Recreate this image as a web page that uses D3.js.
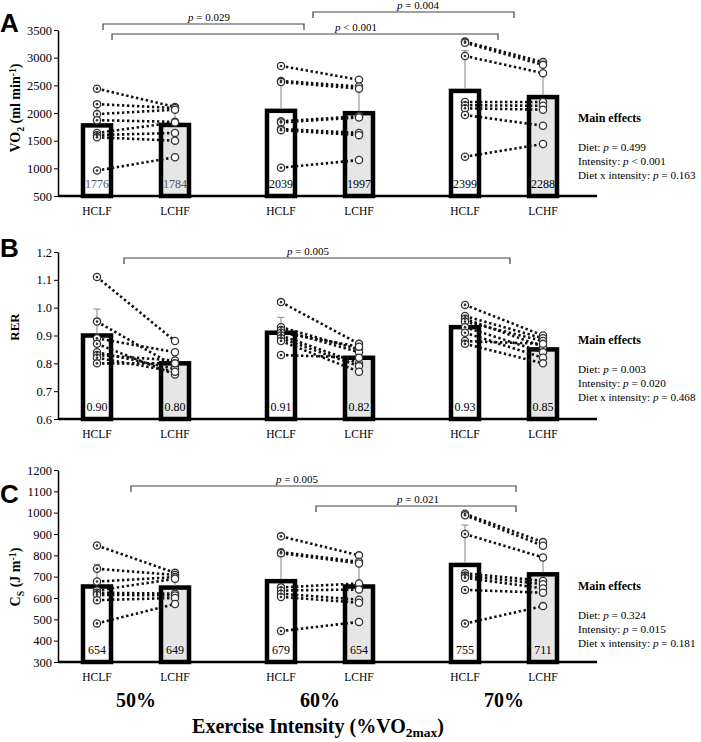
<!DOCTYPE html>
<html lang="en">
<head>
<meta charset="UTF-8" />
<title>VO2, RER and Cs by diet and exercise intensity</title>
<style>
  body { margin: 0; background: #fff; }
  svg text { font-family: "Liberation Serif", "Times New Roman", serif; }
  svg text.letter { font-family: "Liberation Sans", Arial, sans-serif; }
</style>
</head>
<body>
<script src="https://cdn.jsdelivr.net/npm/d3@7"></script>
<div id="app"></div>
<script>
// categories
const intensities = ["50%", "60%", "70%"];
const diets = ["HCLF", "LCHF"];

// VO2 (ml min-1): means, SD, subjects as [HCLF, LCHF]
const vo2Ticks = [500, 1000, 1500, 2000, 2500, 3000, 3500];
const vo2Means = [[1776, 1784], [2039, 1997], [2399, 2288]];
const vo2Sd = [[430, 320], [520, 440], [727, 400]];
const vo2At50 = [[2440, 2110], [2160, 2090], [1980, 2060], [1870, 1840], [1640, 1830], [1600, 1640], [1560, 1500], [960, 1200]];
const vo2At60 = [[2850, 2600], [2580, 2480], [2560, 2440], [1850, 1940], [1830, 1920], [1710, 1640], [1690, 1600], [1010, 1150]];
const vo2At70 = [[3290, 2920], [3270, 2870], [3030, 2720], [2200, 2200], [2140, 2130], [2085, 2060], [1964, 1770], [1210, 1440]];
const vo2Effects = [["Diet", "= 0.499"], ["Intensity", "< 0.001"], ["Diet x intensity", "= 0.163"]];
const vo2Brackets = [["50%", "60%", "= 0.029"], ["50%", "70%", "< 0.001"], ["60%", "70%", "= 0.004"]];

// RER
const rerTicks = [0.6, 0.7, 0.8, 0.9, 1.0, 1.1, 1.2];
const rerMeans = [[0.90, 0.80], [0.91, 0.82], [0.93, 0.85]];
const rerSd = [[0.095, 0.04], [0.055, 0.035], [0.045, 0.03]];
const rerAt50 = [[1.11, 0.88], [0.95, 0.79], [0.89, 0.84], [0.87, 0.76], [0.84, 0.78], [0.83, 0.81], [0.82, 0.77], [0.80, 0.80]];
const rerAt60 = [[1.02, 0.87], [0.93, 0.85], [0.92, 0.84], [0.91, 0.86], [0.90, 0.80], [0.89, 0.79], [0.88, 0.77], [0.83, 0.82]];
const rerAt70 = [[1.01, 0.90], [0.97, 0.89], [0.96, 0.86], [0.95, 0.88], [0.93, 0.84], [0.91, 0.82], [0.88, 0.87], [0.87, 0.80]];
const rerEffects = [["Diet", "= 0.003"], ["Intensity", "= 0.020"], ["Diet x intensity", "= 0.468"]];
const rerBrackets = [["50%", "70%", "= 0.005"]];

// Cs (J m-1)
const csTicks = [300, 400, 500, 600, 700, 800, 900, 1000, 1100, 1200];
const csMeans = [[654, 649], [679, 654], [755, 711]];
const csSd = [[104, 55], [116, 105], [187, 80]];
const csAt50 = [[846, 718], [737, 708], [677, 698], [635, 690], [625, 620], [615, 612], [590, 600], [481, 572]];
const csAt60 = [[889, 800], [815, 770], [810, 762], [650, 668], [635, 640], [620, 592], [605, 578], [445, 488]];
const csAt70 = [[995, 862], [988, 845], [900, 790], [716, 680], [705, 665], [695, 645], [638, 625], [480, 562]];
const csEffects = [["Diet", "= 0.324"], ["Intensity", "= 0.015"], ["Diet x intensity", "= 0.181"]];
const csBrackets = [["50%", "70%", "= 0.005"], ["60%", "70%", "= 0.021"]];

const W = 701, H = 742;
const axisX = 58, axisEnd = 597;

const svg = d3.select("#app").append("svg")
  .attr("width", W)
  .attr("height", H);

const x0 = d3.scaleBand().domain(intensities).range([44, 596]);
const x1 = d3.scalePoint().domain(diets).range([53, 131]);
const xPos = (g, d) => x0(g) + x1(d);
const xMid = g => x0(g) + x0.bandwidth() / 2;

// layout for each panel (pixels)
const panels = [
  { letter: "A", letterY: 32, top: 30, bottom: 196, domain: [500, 3500], ticks: vo2Ticks,
    tickFmt: d3.format("d"), labelFmt: d3.format("d"), means: vo2Means, sd: vo2Sd,
    subjects: [vo2At50, vo2At60, vo2At70], effects: vo2Effects, effectsY: 122,
    brackets: vo2Brackets,
    bracketLayout: [{ dx1: -33, dx2: -16, y: 24, tx: 209 }, { dx1: -24, dx2: -6, y: 34, tx: 356 }, { dx1: -7, dx2: 10, y: 12, tx: 418 }],
    ylabel: [["VO", 0], ["2", 1], [" (ml min", 0], ["-1", -1], [")", 0]], ylabelPos: [20, 108], ylabelSize: 14,
    labelColors: [["#555", "#555"], ["#000", "#000"], ["#000", "#000"]] },
  { letter: "B", letterY: 257, top: 252, bottom: 419, domain: [0.6, 1.2], ticks: rerTicks,
    tickFmt: d3.format(".1f"), labelFmt: d3.format(".2f"), means: rerMeans, sd: rerSd,
    subjects: [rerAt50, rerAt60, rerAt70], effects: rerEffects, effectsY: 344,
    brackets: rerBrackets,
    bracketLayout: [{ dx1: -12, dx2: 6, y: 258, tx: 308 }],
    ylabel: [["RER", 0]], ylabelPos: [19, 327], ylabelSize: 13,
    labelColors: [["#000", "#000"], ["#000", "#000"], ["#000", "#000"]] },
  { letter: "C", letterY: 503, top: 470, bottom: 662, domain: [300, 1200], ticks: csTicks,
    tickFmt: d3.format("d"), labelFmt: d3.format("d"), means: csMeans, sd: csSd,
    subjects: [csAt50, csAt60, csAt70], effects: csEffects, effectsY: 590,
    brackets: csBrackets,
    bracketLayout: [{ dx1: -5, dx2: 12, y: 486, tx: 297 }, { dx1: -4, dx2: 12, y: 506, tx: 418 }],
    ylabel: [["C", 0], ["S", 1], [" (J m", 0], ["-1", -1], [")", 0]], ylabelPos: [20, 577], ylabelSize: 14,
    labelColors: [["#000", "#000"], ["#000", "#000"], ["#000", "#000"]] }
];

function drawPanel(p) {
  const y = d3.scaleLinear().domain(p.domain).range([p.bottom, p.top]);
  const g = svg.append("g");

  // y axis
  const ax = g.append("g")
    .attr("transform", "translate(" + axisX + ",0)")
    .call(d3.axisLeft(y).tickValues(p.ticks).tickFormat(p.tickFmt).tickSize(4).tickSizeOuter(0).tickPadding(2));
  ax.select(".domain").attr("stroke", "#000").attr("stroke-width", 1.5);
  ax.selectAll(".tick line").attr("stroke", "#000");
  ax.selectAll("text")
    .attr("font-size", 12.5)
    .attr("fill", "#000");

  // bars
  const cells = intensities.flatMap((gName, i) => diets.map((d, j) => ({
    g: gName, d: d, i: i, j: j, mean: p.means[i][j], sd: p.sd[i][j]
  })));

  g.selectAll("rect.bar")
    .data(cells)
    .enter()
    .append("rect")
    .attr("class", "bar")
    .attr("x", c => xPos(c.g, c.d) - 14)
    .attr("width", 28)
    .attr("y", c => y(c.mean))
    .attr("height", c => p.bottom - y(c.mean))
    .attr("fill", c => c.d === "HCLF" ? "#fff" : "#e6e6e6")
    .attr("stroke", "#000")
    .attr("stroke-width", 4.5);

  // baseline
  g.append("line")
    .attr("x1", axisX).attr("x2", axisEnd)
    .attr("y1", p.bottom).attr("y2", p.bottom)
    .attr("stroke", "#000")
    .attr("stroke-width", 2.5);

  // error bars (+SD)
  const err = g.selectAll("g.err")
    .data(cells)
    .enter()
    .append("g")
    .attr("stroke", "#999")
    .attr("stroke-width", 1.2);
  err.append("line")
    .attr("x1", c => xPos(c.g, c.d)).attr("x2", c => xPos(c.g, c.d))
    .attr("y1", c => y(c.mean) - 2).attr("y2", c => y(c.mean + c.sd));
  err.append("line")
    .attr("x1", c => xPos(c.g, c.d) - 3.5).attr("x2", c => xPos(c.g, c.d) + 3.5)
    .attr("y1", c => y(c.mean + c.sd)).attr("y2", c => y(c.mean + c.sd));

  // mean labels
  g.selectAll("text.mean")
    .data(cells)
    .enter()
    .append("text")
    .attr("x", c => xPos(c.g, c.d))
    .attr("y", p.bottom - 8)
    .attr("text-anchor", "middle")
    .attr("font-size", 12)
    .attr("fill", c => p.labelColors[c.i][c.j])
    .text(c => p.labelFmt(c.mean));

  // individual subjects
  const subj = intensities.flatMap((gName, i) => p.subjects[i].map(pair => ({ g: gName, h: pair[0], l: pair[1] })));

  g.selectAll("line.subj")
    .data(subj)
    .enter()
    .append("line")
    .attr("x1", s => xPos(s.g, "HCLF"))
    .attr("x2", s => xPos(s.g, "LCHF"))
    .attr("y1", s => y(s.h))
    .attr("y2", s => y(s.l))
    .attr("stroke", "#111")
    .attr("stroke-width", 2.6)
    .attr("stroke-dasharray", "2.4 2.6");

  const pts = subj.flatMap(s => [{ x: xPos(s.g, "HCLF"), v: s.h, dot: true }, { x: xPos(s.g, "LCHF"), v: s.l, dot: false }]);

  g.selectAll("circle.pt")
    .data(pts)
    .enter()
    .append("circle")
    .attr("cx", d => d.x)
    .attr("cy", d => y(d.v))
    .attr("r", 3.6)
    .attr("fill", "#fff")
    .attr("stroke", "#333")
    .attr("stroke-width", 1.3);

  g.selectAll("circle.dot")
    .data(pts.filter(d => d.dot))
    .enter()
    .append("circle")
    .attr("cx", d => d.x)
    .attr("cy", d => y(d.v))
    .attr("r", 1.3)
    .attr("fill", "#333");

  // diet labels
  g.selectAll("text.diet")
    .data(cells)
    .enter()
    .append("text")
    .attr("x", c => xPos(c.g, c.d))
    .attr("y", p.bottom + 19)
    .attr("text-anchor", "middle")
    .attr("font-size", 11.5)
    .text(c => c.d);

  // brackets
  p.brackets.forEach((b, k) => {
    const lay = p.bracketLayout[k];
    const xa = xMid(b[0]) + lay.dx1;
    const xb = xMid(b[1]) + lay.dx2;
    g.append("path")
      .attr("d", "M" + xa + "," + (lay.y + 6) + "V" + lay.y + "H" + xb + "V" + (lay.y + 6))
      .attr("fill", "none")
      .attr("stroke", "#444")
      .attr("stroke-width", 1.2);
    const t = g.append("text")
      .attr("x", lay.tx)
      .attr("y", lay.y - 3)
      .attr("text-anchor", "middle")
      .attr("font-size", 11);
    t.append("tspan").attr("font-style", "italic").text("p");
    t.append("tspan").text(" " + b[2]);
  });

  // main effects
  g.append("text")
    .attr("x", 578)
    .attr("y", p.effectsY)
    .attr("font-size", 12)
    .attr("font-weight", "bold")
    .text("Main effects");
  p.effects.forEach((e, k) => {
    const t = g.append("text")
      .attr("x", 578)
      .attr("y", p.effectsY + 29 + k * 14)
      .attr("font-size", 11.2);
    t.append("tspan").text(e[0] + ": ");
    t.append("tspan").attr("font-style", "italic").text("p");
    t.append("tspan").text(" " + e[1]);
  });

  // y label
  const yl = g.append("text")
    .attr("transform", "translate(" + p.ylabelPos[0] + "," + p.ylabelPos[1] + ") rotate(-90)")
    .attr("text-anchor", "middle")
    .attr("font-size", p.ylabelSize)
    .attr("font-weight", "bold");
  let shift = 0;
  p.ylabel.forEach(part => {
    const target = part[1] * 4;
    const ts = yl.append("tspan").attr("dy", target - shift).text(part[0]);
    if (part[1] !== 0) ts.attr("font-size", p.ylabelSize * 0.7);
    shift = target;
  });

  // panel letter
  svg.append("text")
    .attr("class", "letter")
    .attr("x", 0)
    .attr("y", p.letterY)
    .attr("font-weight", "bold")
    .attr("font-size", 26)
    .text(p.letter);
}

panels.forEach(drawPanel);

// intensity labels
svg.selectAll("text.intensity")
  .data(intensities)
  .enter()
  .append("text")
  .attr("x", d => xMid(d))
  .attr("y", 707)
  .attr("text-anchor", "middle")
  .attr("font-size", 20)
  .attr("font-weight", "bold")
  .text(d => d);

const xt = svg.append("text")
  .attr("x", 318)
  .attr("y", 733)
  .attr("text-anchor", "middle")
  .attr("font-size", 20)
  .attr("font-weight", "bold");
xt.append("tspan").text("Exercise Intensity (%VO");
xt.append("tspan").attr("dy", 4).attr("font-size", 13.5).text("2max");
xt.append("tspan").attr("dy", -4).text(")");
</script>
</body>
</html>
